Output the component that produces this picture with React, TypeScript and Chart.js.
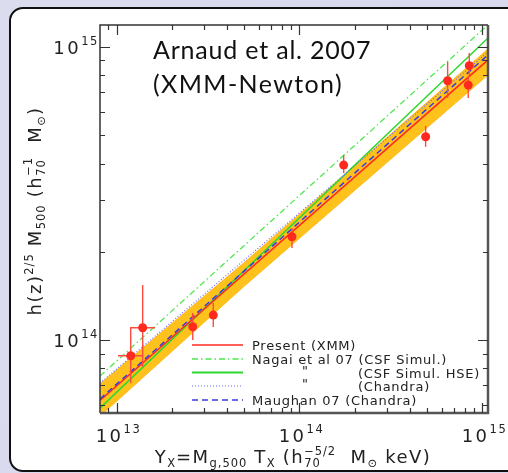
import React, { useEffect, useRef } from "react";
import { Chart, registerables } from "chart.js";
Chart.register(...registerables);

// ---- axis ranges ----
const xMin = 8.125e12;
const xMax = 1.072e15;
const yMin = 5.64e13;
const yMax = 1.188e15;

// ---- tick values ----
const xMajorTicks = [1e13, 1e14, 1e15];
const xMinorTicks = [9e12, 2e13, 3e13, 4e13, 5e13, 6e13, 7e13, 8e13, 9e13, 2e14, 3e14, 4e14, 5e14, 6e14, 7e14, 8e14, 9e14];
const yMajorTicks = [1e14, 1e15];
const yMinorTicks = [6e13, 7e13, 8e13, 9e13, 2e14, 3e14, 4e14, 5e14, 6e14, 7e14, 8e14, 9e14];
const xTickExp = ["13", "14", "15"];
const yTickExp = ["14", "15"];

// ---- data points (Y_X, M500) with errors ----
const ptY = [1.196e13, 1.39e13, 2.61e13, 3.38e13, 9.1e13, 1.744e14, 4.89e14, 6.45e14, 8.47e14, 8.36e14];
const ptM = [8.84e13, 1.102e14, 1.11e14, 1.217e14, 2.252e14, 3.954e14, 4.94e14, 7.67e14, 8.63e14, 7.41e14];
const ptMLow = [7.13e13, 8.09e13, 1.0e14, 1.108e14, 2.06e14, 3.715e14, 4.56e14, 6.7e14, 7.9e14, 6.7e14];
const ptMHigh = [1.108e14, 1.54e14, 1.236e14, 1.338e14, 2.41e14, 4.28e14, 5.38e14, 8.89e14, 9.54e14, 7.9e14];
const ptYLow = [1.019e13, 1.2e13, null, null, null, null, null, null, null, null];
const ptYHigh = [1.396e13, 1.623e13, null, null, null, null, null, null, null, null];

// ---- relation lines (endpoints) ----
const lineX = [8.125e12, 1.072e15];
const presentM = [6.22e13, 9.03e14];
const nagaiM = [7.54e13, 1.19e15];
const nagaiHseM = [5.86e13, 1.073e15];
const chandraM = [7.13e13, 9.61e14];
const maughanM = [6.3e13, 9.39e14];

// ---- uncertainty band ----
const bandX = [8.125e12, 5e13, 1.072e15];
const bandUpper = [7.08e13, 1.84e14, 9.84e14];
const bandLower = [5.5e13, 1.53e14, 8.03e14];

// ---- legend ----
const legendLabels = ["Present (XMM)", "Nagai et al 07 (CSF Simul.)", "(CSF Simul. HSE)", "(Chandra)", "Maughan 07 (Chandra)"];

const RED = "#ff2a1f";
const GREEN_DD = "#4ee84e";
const GREEN = "#2fd82f";
const BLUE_DOT = "#6a6aff";
const BLUE_DASH = "#3a3ae0";
const BAND = "#ffc21c";

const FAM = '"DejaVu Sans", sans-serif';

type Seg = { t: string; s: number; dy: number; overlay?: boolean };

function drawRich(ctx: CanvasRenderingContext2D, segs: Seg[], x: number, y: number, align: "left" | "center" | "right", ls: number) {
  const widths: number[] = [];
  let total = 0;
  let lastStart = 0;
  let lastEnd = 0;
  for (const g of segs) {
    ctx.font = `${g.s}px ${FAM}`;
    (ctx as any).letterSpacing = `${(ls * g.s) / 16}px`;
    const w = ctx.measureText(g.t).width;
    widths.push(w);
    if (g.overlay) {
      lastEnd = Math.max(lastEnd, lastStart + w);
      total = lastEnd;
    } else {
      lastStart = total;
      lastEnd = total + w;
      total = lastEnd;
    }
  }
  const x0 = align === "center" ? x - total / 2 : align === "right" ? x - total : x;
  let start = 0;
  let end = 0;
  segs.forEach((g, i) => {
    ctx.font = `${g.s}px ${FAM}`;
    (ctx as any).letterSpacing = `${(ls * g.s) / 16}px`;
    ctx.textAlign = "left";
    if (g.overlay) {
      ctx.fillText(g.t, x0 + start, y + g.dy);
      end = Math.max(end, start + widths[i]);
    } else {
      start = end;
      ctx.fillText(g.t, x0 + start, y + g.dy);
      end = start + widths[i];
    }
  });
  (ctx as any).letterSpacing = "0px";
}

const customPlugin = {
  id: "custom",
  beforeDraw(chart: any) {
    const ctx: CanvasRenderingContext2D = chart.ctx;
    ctx.save();
    const g = ctx.createLinearGradient(0, 0, chart.width, chart.height);
    g.addColorStop(0, "#dcdcef");
    g.addColorStop(1, "#d8d8ee");
    ctx.fillStyle = g;
    ctx.fillRect(0, 0, chart.width, chart.height);
    const x = 10, y = 8, w = 530, h = 463, r = 13;
    ctx.beginPath();
    ctx.moveTo(x + r, y);
    ctx.lineTo(x + w, y);
    ctx.lineTo(x + w, y + h);
    ctx.lineTo(x + r, y + h);
    ctx.arcTo(x, y + h, x, y + h - r, r);
    ctx.lineTo(x, y + r);
    ctx.arcTo(x, y, x + r, y, r);
    ctx.closePath();
    ctx.fillStyle = "#ffffff";
    ctx.fill();
    ctx.lineWidth = 2;
    ctx.strokeStyle = "#111";
    ctx.stroke();
    ctx.restore();
  },
  beforeDatasetDraw(chart: any, args: any) {
    if (args.index !== 0) return;
    const ctx: CanvasRenderingContext2D = chart.ctx;
    const xs = chart.scales.x;
    const ys = chart.scales.y;
    ctx.save();
    ctx.beginPath();
    ctx.rect(chart.chartArea.left, chart.chartArea.top, chart.chartArea.right - chart.chartArea.left, chart.chartArea.bottom - chart.chartArea.top);
    ctx.clip();
    ctx.strokeStyle = "#ff4a3f";
    ctx.lineWidth = 1.4;
    ptY.forEach((xv, i) => {
      const px = xs.getPixelForValue(xv);
      const py = ys.getPixelForValue(ptM[i]);
      ctx.beginPath();
      ctx.moveTo(px, ys.getPixelForValue(ptMLow[i]));
      ctx.lineTo(px, ys.getPixelForValue(ptMHigh[i]));
      const xl = ptYLow[i];
      const xh = ptYHigh[i];
      if (xl != null && xh != null) {
        ctx.moveTo(xs.getPixelForValue(xl), py);
        ctx.lineTo(xs.getPixelForValue(xh), py);
      }
      ctx.stroke();
    });
    ctx.restore();
  },
  afterDraw(chart: any) {
    const ctx: CanvasRenderingContext2D = chart.ctx;
    const xs = chart.scales.x;
    const ys = chart.scales.y;
    const { left, right, top, bottom } = chart.chartArea;
    ctx.save();
    // axes box
    ctx.strokeStyle = "#333";
    ctx.lineWidth = 1.5;
    ctx.beginPath();
    ctx.moveTo(left, bottom);
    ctx.lineTo(left, top);
    ctx.lineTo(right, top);
    ctx.stroke();
    ctx.strokeStyle = "#555";
    ctx.lineWidth = 2.5;
    ctx.beginPath();
    ctx.moveTo(right, top);
    ctx.lineTo(right, bottom);
    ctx.lineTo(left, bottom);
    ctx.stroke();
    // ticks
    ctx.strokeStyle = "#333";
    ctx.lineWidth = 1.2;
    const tickX = (v: number, len: number) => {
      const p = Math.round(xs.getPixelForValue(v)) + 0.5;
      ctx.beginPath();
      ctx.moveTo(p, bottom);
      ctx.lineTo(p, bottom - len);
      ctx.moveTo(p, top);
      ctx.lineTo(p, top + len);
      ctx.stroke();
    };
    const tickY = (v: number, len: number) => {
      const p = Math.round(ys.getPixelForValue(v)) + 0.5;
      ctx.beginPath();
      ctx.moveTo(left, p);
      ctx.lineTo(left + len, p);
      ctx.moveTo(right, p);
      ctx.lineTo(right - len, p);
      ctx.stroke();
    };
    xMajorTicks.forEach((v) => tickX(v, 10));
    xMinorTicks.forEach((v) => tickX(v, 5));
    yMajorTicks.forEach((v) => tickY(v, 10));
    yMinorTicks.forEach((v) => tickY(v, 5));

    ctx.fillStyle = "#222";
    ctx.textBaseline = "alphabetic";
    // tick labels
    xMajorTicks.forEach((v, i) => {
      const p = xs.getPixelForValue(v);
      drawRich(ctx, [{ t: "10", s: 18, dy: 0 }, { t: xTickExp[i], s: 11.5, dy: -9 }], p + 2, 442, "center", 2.2);
    });
    yMajorTicks.forEach((v, i) => {
      const p = ys.getPixelForValue(v);
      drawRich(ctx, [{ t: "10", s: 18, dy: 0 }, { t: yTickExp[i], s: 11.5, dy: -9 }], 99, p + 7, "right", 2.2);
    });

    // x title
    drawRich(
      ctx,
      [
        { t: "Y", s: 18, dy: 0 },
        { t: "X", s: 11.5, dy: 4 },
        { t: "=M", s: 18, dy: 0 },
        { t: "g,500", s: 11.5, dy: 4 },
        { t: " T", s: 18, dy: 0 },
        { t: "X", s: 11.5, dy: 4 },
        { t: " (h", s: 18, dy: 0 },
        { t: "70", s: 11.5, dy: 4 },
        { t: "\u22125/2", s: 11.5, dy: -8, overlay: true },
        { t: "  M", s: 18, dy: 0 },
        { t: "\u2299", s: 11.5, dy: 4 },
        { t: " keV)", s: 18, dy: 0 },
      ],
      293,
      463,
      "center",
      1.3
    );

    // y title
    ctx.save();
    ctx.translate(41, 211);
    ctx.rotate(-Math.PI / 2);
    drawRich(
      ctx,
      [
        { t: "h(z)", s: 18, dy: 0 },
        { t: "2/5", s: 11.5, dy: -8 },
        { t: " M", s: 18, dy: 0 },
        { t: "500", s: 11.5, dy: 4 },
        { t: " (h", s: 18, dy: 0 },
        { t: "70", s: 11.5, dy: 4 },
        { t: "\u22121", s: 11.5, dy: -9, overlay: true },
        { t: "  M", s: 18, dy: 0 },
        { t: "\u2299", s: 11.5, dy: 4 },
        { t: ")", s: 18, dy: 0 },
      ],
      0,
      0,
      "center",
      1.3
    );
    ctx.restore();

    // title
    ctx.fillStyle = "#111";
    ctx.font = '25px Lato, "Open Sans", sans-serif';
    (ctx as any).letterSpacing = "0.8px";
    ctx.textAlign = "left";
    ctx.fillText("Arnaud et al. 2007", 153, 59);
    (ctx as any).letterSpacing = "1.4px";
    ctx.fillText("(XMM-Newton)", 153, 93);
    (ctx as any).letterSpacing = "0px";

    // legend
    const rowsY = [345, 359, 372.5, 386, 400];
    const styles = [
      { c: RED, d: [] as number[], w: 1.5 },
      { c: GREEN_DD, d: [6, 3, 1.5, 3], w: 1.5 },
      { c: GREEN, d: [], w: 2 },
      { c: BLUE_DOT, d: [1, 2], w: 1.2 },
      { c: BLUE_DASH, d: [6, 4], w: 1.5 },
    ];
    rowsY.forEach((yy, i) => {
      ctx.strokeStyle = styles[i].c;
      ctx.lineWidth = styles[i].w;
      ctx.setLineDash(styles[i].d);
      ctx.beginPath();
      ctx.moveTo(192, yy);
      ctx.lineTo(243, yy);
      ctx.stroke();
    });
    ctx.setLineDash([]);
    ctx.fillStyle = "#222";
    ctx.font = `13px ${FAM}`;
    (ctx as any).letterSpacing = "0.75px";
    ctx.textAlign = "left";
    ctx.fillText(legendLabels[0], 252, rowsY[0] + 5);
    ctx.fillText(legendLabels[1], 252, rowsY[1] + 5);
    ctx.fillText('"', 302, rowsY[2] + 2);
    ctx.fillText(legendLabels[2], 358, rowsY[2] + 5);
    ctx.fillText('"', 302, rowsY[3] + 2);
    ctx.fillText(legendLabels[3], 358, rowsY[3] + 5);
    ctx.fillText(legendLabels[4], 252, rowsY[4] + 5);
    (ctx as any).letterSpacing = "0px";
    ctx.restore();
  },
};

const toPts = (xs: number[], ys: number[]) => xs.map((x, i) => ({ x, y: ys[i] }));

export default function App() {
  const ref = useRef<HTMLCanvasElement>(null);
  useEffect(() => {
    if (!ref.current) return;
    const lineDs = (label: string, data: number[], color: string, dash: number[], width: number, order: number) => ({
      label,
      data: toPts(lineX, data),
      showLine: true,
      borderColor: color,
      borderWidth: width,
      borderDash: dash,
      pointRadius: 0,
      fill: false,
      order,
    });
    const chart = new Chart(ref.current, {
      type: "scatter",
      data: {
        datasets: [
          {
            label: "points",
            data: toPts(ptY, ptM),
            pointRadius: 4.5,
            pointBackgroundColor: RED,
            pointBorderColor: RED,
            pointBorderWidth: 0,
            showLine: false,
            order: 0,
          } as any,
          lineDs("Maughan 07", maughanM, BLUE_DASH, [6, 4], 1.5, 1),
          lineDs("Present", presentM, RED, [], 1.5, 2),
          lineDs("Chandra", chandraM, BLUE_DOT, [1, 2], 1.2, 3),
          lineDs("Nagai HSE", nagaiHseM, GREEN, [], 1.5, 4),
          lineDs("Nagai", nagaiM, GREEN_DD, [6, 3, 1.5, 3], 1.3, 5),
          {
            label: "band upper",
            data: toPts(bandX, bandUpper),
            showLine: true,
            borderColor: "#ffb414",
            borderWidth: 1,
            pointRadius: 0,
            backgroundColor: BAND,
            fill: "+1",
            order: 6,
          } as any,
          {
            label: "band lower",
            data: toPts(bandX, bandLower),
            showLine: true,
            borderColor: "#ffb414",
            borderWidth: 1,
            pointRadius: 0,
            fill: false,
            order: 7,
          } as any,
        ],
      },
      options: {
        animation: false,
        responsive: false,
        devicePixelRatio: 1,
        layout: { padding: { left: 100, top: 25, right: 20, bottom: 60 } },
        plugins: { legend: { display: false }, tooltip: { enabled: false } },
        scales: {
          x: { type: "logarithmic", min: xMin, max: xMax, display: false },
          y: { type: "logarithmic", min: yMin, max: yMax, display: false },
        },
      },
      plugins: [customPlugin as any],
    });
    return () => chart.destroy();
  }, []);
  return (
    <div style={{ position: "fixed", left: 0, top: 0, width: 508, height: 473 }}>
      <canvas ref={ref} width={508} height={473} style={{ display: "block" }} />
    </div>
  );
}
